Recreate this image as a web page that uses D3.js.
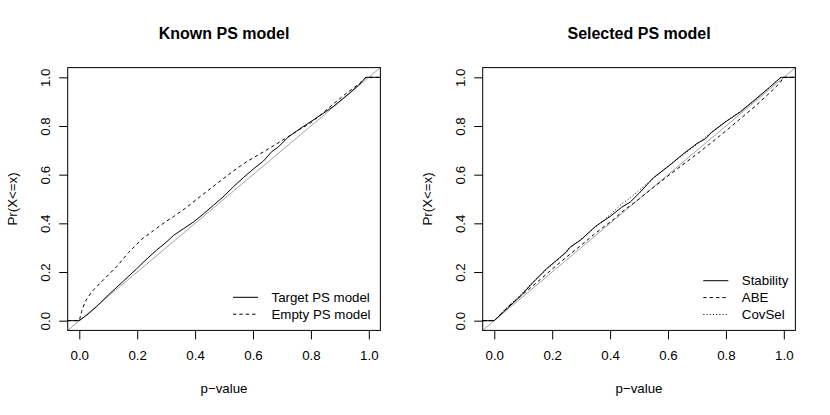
<!DOCTYPE html>
<html>
<head>
<meta charset="utf-8">
<title>PS model p-value ECDFs</title>
<script src="https://d3js.org/d3.v7.min.js"></script>
<style>
  body { margin: 0; background: #fff; }
  text { font-family: "Liberation Sans", Arial, Helvetica, sans-serif; fill: #000; }
</style>
</head>
<body>
<svg width="830" height="415"></svg>
<script>
// p-value ECDF knots: [p, Pr(X<=x)]
var knownTarget = [[0,0],[0.03,0.027],[0.06,0.058],[0.106,0.112],[0.15,0.16],[0.198,0.213],[0.23,0.25],[0.267,0.29],
  [0.3,0.322],[0.325,0.35],[0.36,0.378],[0.394,0.405],[0.43,0.44],[0.463,0.474],[0.5,0.512],[0.532,0.55],
  [0.567,0.588],[0.6,0.622],[0.636,0.656],[0.665,0.695],[0.687,0.713],[0.722,0.755],[0.76,0.787],[0.797,0.816],
  [0.84,0.85],[0.877,0.88],[0.91,0.912],[0.935,0.937],[0.965,0.968],[0.99,1]];
var knownEmpty = [[0,0],[0.008,0.037],[0.02,0.078],[0.043,0.119],[0.083,0.167],[0.129,0.222],[0.17,0.28],[0.216,0.335],
  [0.256,0.37],[0.3,0.408],[0.325,0.427],[0.37,0.465],[0.428,0.52],[0.475,0.563],[0.532,0.615],[0.58,0.655],
  [0.624,0.685],[0.682,0.727],[0.716,0.752],[0.76,0.785],[0.797,0.811],[0.84,0.852],[0.877,0.89],[0.923,0.935],
  [0.965,0.972],[0.99,1]];
var selStability = [[0,0],[0.04,0.045],[0.09,0.1],[0.13,0.152],[0.18,0.213],[0.225,0.258],[0.25,0.283],[0.26,0.3],
  [0.3,0.333],[0.35,0.388],[0.4,0.428],[0.44,0.466],[0.47,0.488],[0.5,0.523],[0.55,0.588],[0.6,0.633],
  [0.65,0.683],[0.7,0.728],[0.73,0.748],[0.75,0.773],[0.8,0.818],[0.85,0.858],[0.9,0.908],[0.95,0.958],[0.99,1]];
var selABE = [[0,0],[0.05,0.06],[0.1,0.11],[0.15,0.16],[0.2,0.212],[0.25,0.262],[0.3,0.31],[0.35,0.36],[0.4,0.405],
  [0.45,0.455],[0.5,0.5],[0.55,0.548],[0.6,0.595],[0.65,0.64],[0.7,0.685],[0.75,0.732],[0.8,0.78],[0.85,0.83],
  [0.9,0.88],[0.95,0.935],[0.985,0.975],[1,1]];
var selCovSel = [[0,0],[0.04,0.05],[0.09,0.105],[0.13,0.155],[0.18,0.21],[0.225,0.255],[0.26,0.3],[0.3,0.335],
  [0.35,0.385],[0.4,0.435],[0.44,0.48],[0.47,0.505],[0.5,0.535],[0.55,0.585],[0.6,0.635],[0.65,0.68],[0.7,0.725],
  [0.72,0.745],[0.75,0.775],[0.8,0.82],[0.85,0.86],[0.9,0.905],[0.95,0.958],[0.99,1]];

var ticks = [0, 0.2, 0.4, 0.6, 0.8, 1.0];
var titles = ["Known PS model", "Selected PS model"];
var xLabel = "p\u2212value", yLabel = "Pr(X<=x)";

var dashes = { solid: null, dashed: "3.3,3.1", dotted: "1,2.2" };

var panels = [
  { title: titles[0], dx: 0,
    series: [{ name: "Target PS model", data: knownTarget, lty: "solid" },
             { name: "Empty PS model", data: knownEmpty, lty: "dashed" }],
    legend: { x: 233, y: 297.3 } },
  { title: titles[1], dx: 415,
    series: [{ name: "Stability", data: selStability, lty: "solid" },
             { name: "ABE", data: selABE, lty: "dashed" },
             { name: "CovSel", data: selCovSel, lty: "dotted" }],
    legend: { x: 703.3, y: 280.7 } }
];

var svg = d3.select("svg");
var dom = [-0.04, 1.04];

panels.forEach(function(p) {
  var x = d3.scaleLinear().domain(dom).range([67.7 + p.dx, 380.4 + p.dx]);
  var y = d3.scaleLinear().domain(dom).range([330.4, 67.6]);
  var g = svg.append("g");

  // reference diagonal, corner to corner
  g.append("line")
    .attr("x1", x(dom[0])).attr("y1", y(dom[0]))
    .attr("x2", x(dom[1])).attr("y2", y(dom[1]))
    .attr("stroke", "#a3a3a3").attr("stroke-width", 1);

  var line = d3.line().x(function(d) { return x(d[0]); }).y(function(d) { return y(d[1]); });

  p.series.forEach(function(s) {
    var first = s.data[0], last = s.data[s.data.length - 1];
    var pts = [[dom[0], first[1]]].concat(s.data, [[dom[1], last[1]]]);
    g.append("path")
      .attr("d", line(pts))
      .attr("fill", "none")
      .attr("stroke", "#000")
      .attr("stroke-width", 1)
      .attr("stroke-dasharray", dashes[s.lty]);
  });

  // box
  g.append("rect")
    .attr("x", x(dom[0])).attr("y", y(dom[1]))
    .attr("width", x(dom[1]) - x(dom[0])).attr("height", y(dom[0]) - y(dom[1]))
    .attr("fill", "none").attr("stroke", "#000").attr("stroke-width", 1);

  var fmt = d3.format(".1f");

  var ax = g.append("g")
    .attr("transform", "translate(0," + y(dom[0]) + ")")
    .call(d3.axisBottom(x).tickValues(ticks).tickFormat(fmt).tickSize(9).tickPadding(11));
  ax.select(".domain").remove();
  ax.selectAll("text").attr("font-size", 13.3).attr("font-family", null);
  ax.selectAll("line").attr("stroke", "#000");

  var ay = g.append("g")
    .attr("transform", "translate(" + x(dom[0]) + ",0)")
    .call(d3.axisLeft(y).tickValues(ticks).tickFormat(fmt).tickSize(8.5));
  ay.select(".domain").remove();
  ay.selectAll("line").attr("stroke", "#000");
  ay.selectAll("text")
    .attr("font-size", 13.3).attr("font-family", null)
    .attr("x", null).attr("dy", null)
    .attr("text-anchor", "middle")
    .attr("transform", "translate(-17.7,0) rotate(-90)");

  var cx = (x(dom[0]) + x(dom[1])) / 2, cy = (y(dom[0]) + y(dom[1])) / 2;

  g.append("text")
    .attr("x", cx).attr("y", 39.3)
    .attr("text-anchor", "middle")
    .attr("font-size", 16).attr("font-weight", "bold")
    .text(p.title);

  g.append("text")
    .attr("x", cx).attr("y", 393.3)
    .attr("text-anchor", "middle").attr("font-size", 13.3)
    .text(xLabel);

  g.append("text")
    .attr("transform", "translate(" + (p.dx + 16.8) + "," + cy + ") rotate(-90)")
    .attr("text-anchor", "middle").attr("font-size", 13.3)
    .text(yLabel);

  // legend
  var lg = g.append("g").attr("transform", "translate(" + p.legend.x + "," + p.legend.y + ")");
  var item = lg.selectAll("g").data(p.series).enter().append("g")
    .attr("transform", function(d, i) { return "translate(0," + (i * 16.9) + ")"; });
  item.append("line")
    .attr("x1", 0).attr("x2", 25)
    .attr("stroke", "#000").attr("stroke-width", 1)
    .attr("stroke-dasharray", function(d) { return dashes[d.lty]; });
  item.append("text")
    .attr("x", 38.5).attr("y", 4.7)
    .attr("font-size", 13.3)
    .text(function(d) { return d.name; });
});
</script>
</body>
</html>
